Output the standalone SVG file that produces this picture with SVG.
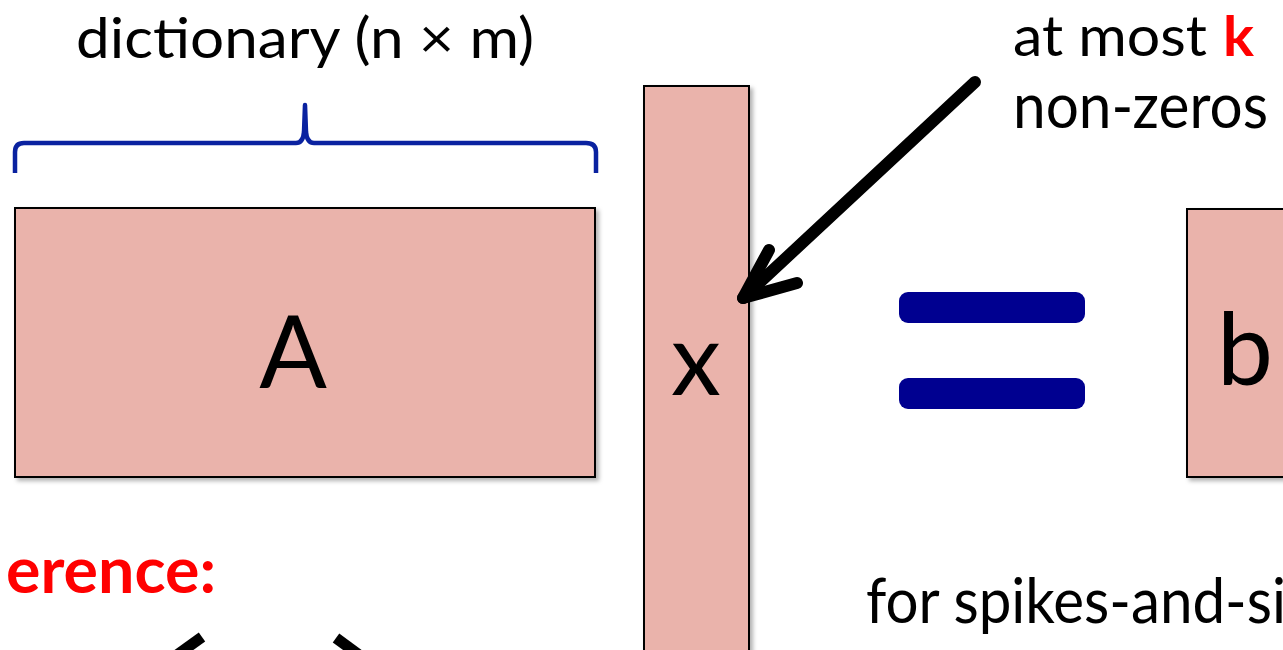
<svg xmlns="http://www.w3.org/2000/svg" width="1283" height="650" viewBox="0 0 1283 650">
  <defs>
    <filter id="shadow" x="-10%" y="-10%" width="130%" height="130%">
      <feDropShadow dx="3" dy="3" stdDeviation="2" flood-color="#000" flood-opacity="0.3"/>
    </filter>
  </defs>
  <style>
    .box { fill: #EAB3AB; stroke: #000; stroke-width: 2; filter: url(#shadow); }
    .t { font-family: Lato, "Open Sans", "Liberation Sans", sans-serif; fill: #000; }
    .big { font-size: 100px; }
    .lbl { font-size: 62px; }
    .top { font-size: 56px; }
    .red { fill: #FF0000; font-weight: bold; }
    .brace { fill: none; stroke: #0A22A0; stroke-width: 4.5; stroke-linejoin: round; }
    .eq { fill: #000090; }
    .arrow { fill: none; stroke: #000; stroke-width: 12; stroke-linecap: round; stroke-linejoin: round; }
    .angle { fill: none; stroke: #000; stroke-width: 11; }
  </style>

  <g id="label-dictionary">
    <text class="t top" x="76" y="58" textLength="458" lengthAdjust="spacingAndGlyphs">dictionary (n × m)</text>
  </g>

  <g id="brace">
    <path class="brace" d="M15,173 L15,152 Q15,143 24,143 L296,143 Q303,143 304,132 L305,105 L306,132 Q307,143 314,143 L586,143 Q596,143 596,152 L596,173"/>
  </g>

  <g id="node-A">
    <rect class="box" x="15" y="208" width="580" height="269"/>
    <text class="t big" x="293" y="388" text-anchor="middle">A</text>
  </g>

  <g id="node-x">
    <rect class="box" x="644" y="86" width="105" height="580"/>
    <text class="t big" x="696" y="395" text-anchor="middle">x</text>
  </g>

  <g id="equals">
    <rect class="eq" x="899" y="292" width="186" height="31" rx="9"/>
    <rect class="eq" x="899" y="378" width="186" height="31" rx="9"/>
  </g>

  <g id="node-b">
    <rect class="box" x="1187" y="209" width="120" height="268"/>
    <text class="t big" x="1217" y="385">b</text>
  </g>

  <g id="label-nonzeros">
    <text class="t top" x="1013" y="56" textLength="194" lengthAdjust="spacingAndGlyphs">at most</text>
    <text class="t top red" x="1223" y="56" textLength="31" lengthAdjust="spacingAndGlyphs">k</text>
    <text class="t lbl" x="1013" y="128" textLength="255" lengthAdjust="spacingAndGlyphs">non-zeros</text>
  </g>

  <g id="connectors">
    <path class="arrow" d="M975,82 L743,298"/>
    <path class="arrow" d="M769,250 L743,298 L797,283"/>
  </g>

  <g id="label-inference">
    <text class="t red" x="6" y="593" font-size="64" textLength="210" lengthAdjust="spacingAndGlyphs">erence:</text>
  </g>

  <g id="angles">
    <path class="angle" d="M170,660 L202,637"/>
    <path class="angle" d="M336,638 L366,660"/>
  </g>

  <g id="label-spikes">
    <text class="t lbl" x="866" y="623" textLength="420" lengthAdjust="spacingAndGlyphs">for spikes-and-si</text>
  </g>
</svg>
